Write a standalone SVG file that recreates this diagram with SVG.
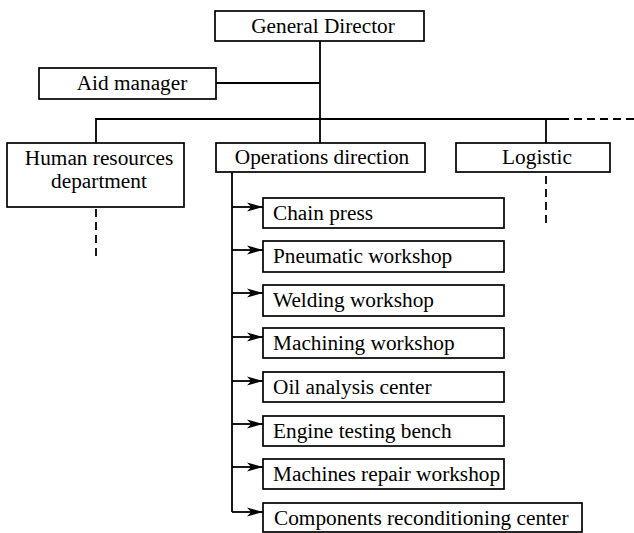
<svg xmlns="http://www.w3.org/2000/svg" width="634" height="533" viewBox="0 0 634 533">
<defs>
<style>
.box{fill:#fff;stroke:#000;stroke-width:1.7}
.ln{fill:none;stroke:#000;stroke-width:1.8}
.dash{fill:none;stroke:#000;stroke-width:1.8;stroke-dasharray:8 5}
text{font-family:"Liberation Serif","Times New Roman",serif;font-size:21.3px;fill:#000}
.c{text-anchor:middle}
</style>
<marker id="arr" viewBox="0 0 16 10" refX="16" refY="5" markerWidth="16" markerHeight="10" markerUnits="userSpaceOnUse" orient="auto">
<path d="M0,0.5 L16,5 L0,9.5 L4,5 Z" fill="#000"/>
</marker>
</defs>
<rect width="634" height="533" fill="#fff"/>
<g id="connectors">
<path class="ln" d="M320,41 V143"/>
<path class="ln" d="M216,83 H320"/>
<path class="ln" d="M96,143 V119 H561"/>
<path class="dash" d="M561,119 H634"/>
<path class="ln" d="M546,119 V143"/>
<path class="dash" d="M96,209 V258"/>
<path class="dash" d="M546,176 V225"/>
<path class="ln" d="M232,172 V512"/>
<path class="ln" marker-end="url(#arr)" d="M232,207 H263"/>
<path class="ln" marker-end="url(#arr)" d="M232,250 H263"/>
<path class="ln" marker-end="url(#arr)" d="M232,293 H263"/>
<path class="ln" marker-end="url(#arr)" d="M232,337 H263"/>
<path class="ln" marker-end="url(#arr)" d="M232,381 H263"/>
<path class="ln" marker-end="url(#arr)" d="M232,424 H263"/>
<path class="ln" marker-end="url(#arr)" d="M232,467 H263"/>
<path class="ln" marker-end="url(#arr)" d="M232,512 H263"/>
</g>
<g id="general-director"><rect class="box" x="215" y="11" width="209" height="30"/><text class="c" x="323" y="33">General Director</text></g>
<g id="aid-manager"><rect class="box" x="39" y="68" width="177" height="31"/><text class="c" x="132" y="90">Aid manager</text></g>
<g id="hr"><rect class="box" x="7" y="143" width="177" height="64"/><text class="c" x="99" y="165">Human resources</text><text class="c" x="99" y="188">department</text></g>
<g id="operations"><rect class="box" x="216" y="143" width="209" height="29"/><text class="c" x="322" y="164">Operations direction</text></g>
<g id="logistic"><rect class="box" x="456" y="143" width="154" height="29"/><text class="c" x="537" y="164">Logistic</text></g>
<g id="chain-press"><rect class="box" x="263" y="198" width="241" height="30"/><text x="273" y="220">Chain press</text></g>
<g id="pneumatic"><rect class="box" x="263" y="241" width="241" height="31"/><text x="273" y="263">Pneumatic workshop</text></g>
<g id="welding"><rect class="box" x="263" y="285" width="241" height="31"/><text x="273" y="307">Welding workshop</text></g>
<g id="machining"><rect class="box" x="263" y="328" width="241" height="30"/><text x="273" y="350">Machining workshop</text></g>
<g id="oil"><rect class="box" x="263" y="372" width="241" height="30"/><text x="273" y="394">Oil analysis center</text></g>
<g id="engine"><rect class="box" x="263" y="416" width="241" height="30"/><text x="273" y="438">Engine testing bench</text></g>
<g id="machines-repair"><rect class="box" x="263" y="459" width="241" height="30"/><text x="273" y="481">Machines repair workshop</text></g>
<g id="components"><rect class="box" x="263" y="503" width="319" height="29"/><text x="274" y="525">Components reconditioning center</text></g>
</svg>
